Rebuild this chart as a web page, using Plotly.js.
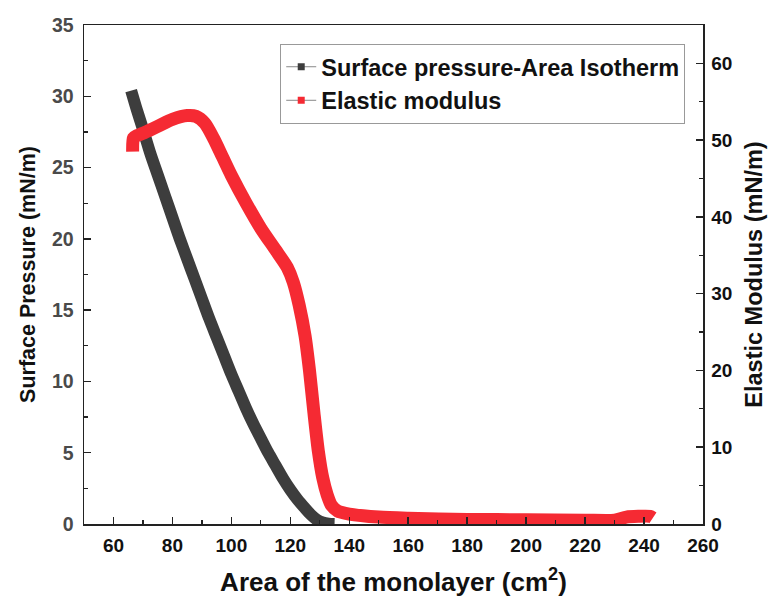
<!DOCTYPE html>
<html>
<head>
<meta charset="utf-8">
<script src="https://cdn.plot.ly/plotly-3.0.1.min.js"></script>
<style>html,body{margin:0;padding:0;background:#fff;}#chart{width:772px;height:602px;}</style>
</head>
<body>
<div id="chart"></div>
<script>
// Surface pressure-Area isotherm (left axis)
const isoArea = [66, 68, 70, 72.5, 75, 77.5, 80, 82.5, 85, 87.5, 90, 92.5, 95, 97.5, 100, 102.5, 105, 107.5, 110, 112.5, 115, 117.5, 120, 122.5, 125, 127, 129, 131, 133, 135];
const isoPressure = [30.4, 29.0, 27.7, 26.0, 24.5, 23.0, 21.5, 20.0, 18.6, 17.2, 15.8, 14.4, 13.1, 11.8, 10.5, 9.3, 8.1, 7.0, 6.0, 5.0, 4.1, 3.2, 2.4, 1.7, 1.1, 0.65, 0.3, 0.1, 0.02, 0];

// Elastic modulus (right axis)
const emArea = [66.5, 66.8, 68, 70, 75, 80, 85, 88, 91, 94, 97, 100, 105, 110, 115, 119, 121, 123, 125, 126.5, 128, 129.5, 131, 132.5, 134, 136, 140, 150, 160, 180, 200, 220, 230, 234, 238, 242, 243];
const emModulus = [48.5, 50.3, 50.6, 50.9, 51.8, 52.7, 53.2, 53.1, 52.2, 50.2, 47.8, 45.4, 41.8, 38.5, 35.7, 33.4, 31.5, 28.5, 24.5, 20.0, 14.5, 9.5, 6.0, 3.8, 2.4, 1.7, 1.3, 0.9, 0.75, 0.6, 0.55, 0.5, 0.5, 0.9, 1.0, 1.0, 0.8];

const seriesNames = ["Surface pressure-Area Isotherm", "Elastic modulus"];
const colBlack = "#3d3d3d";
const colRed = "#f52a33";

const traces = [
  {x: isoArea, y: isoPressure, mode: "lines", line: {color: colBlack, width: 12, shape: "spline", smoothing: 0.8}, showlegend: false, yaxis: "y", hoverinfo: "skip"},
  {x: emArea, y: emModulus, mode: "lines", line: {color: colRed, width: 13, shape: "spline", smoothing: 0.7}, showlegend: false, yaxis: "y2", hoverinfo: "skip"},
  {x: [null], y: [null], mode: "lines+markers", name: seriesNames[0], line: {color: "#888", width: 1}, marker: {symbol: "square", size: 7, color: colBlack}},
  {x: [null], y: [null], mode: "lines+markers", name: seriesNames[1], line: {color: "#888", width: 1}, marker: {symbol: "square", size: 7, color: colRed}}
];

const fontFam = "Liberation Sans, Arial, sans-serif";
const layout = {
  width: 772, height: 602,
  margin: {l: 84, r: 69, t: 25, b: 78},
  paper_bgcolor: "#fff", plot_bgcolor: "#fff",
  font: {family: fontFam, color: "#111"},
  showlegend: true,
  legend: {
    x: 0.317, y: 0.962, xanchor: "left", yanchor: "top",
    bordercolor: "#999", borderwidth: 1, bgcolor: "#fff",
    font: {size: 23.5, family: fontFam, weight: "bold", color: "#111"},
    tracegroupgap: 0, itemwidth: 30
  },
  xaxis: {
    range: [50, 260], tickmode: "linear", tick0: 60, dtick: 20,
    ticks: "inside", ticklen: 7, tickwidth: 1.5, tickcolor: "#222",
    minor: {dtick: 10, tick0: 50, ticks: "inside", ticklen: 4, tickcolor: "#222", tickwidth: 1.2},
    showline: true, linecolor: "#222", linewidth: 1.5, mirror: true,
    showgrid: false, zeroline: false,
    ticklabelstandoff: 4,
    tickfont: {size: 19, family: fontFam, weight: "bold", color: "#111"},
    title: {text: "Area of the monolayer (cm<sup>2</sup>)", font: {size: 26, family: fontFam, weight: "bold", color: "#111"}, standoff: 17}
  },
  yaxis: {
    range: [0, 35], tickmode: "linear", tick0: 0, dtick: 5,
    ticks: "inside", ticklen: 7, tickwidth: 1.5, tickcolor: "#222",
    minor: {dtick: 2.5, ticks: "inside", ticklen: 4, tickcolor: "#222", tickwidth: 1.2},
    showline: true, linecolor: "#222", linewidth: 1.5,
    showgrid: false, zeroline: false,
    ticklabelstandoff: 5,
    tickfont: {size: 19.5, family: fontFam, weight: "bold", color: "#4a4a4a"},
    title: {text: "Surface Pressure (mN/m)", font: {size: 21.5, family: fontFam, weight: "bold", color: "#111"}, standoff: 10}
  },
  yaxis2: {
    range: [0, 65], overlaying: "y", side: "right", tickmode: "linear", tick0: 0, dtick: 10,
    ticks: "inside", ticklen: 7, tickwidth: 1.5, tickcolor: "#222",
    minor: {dtick: 5, ticks: "inside", ticklen: 4, tickcolor: "#222", tickwidth: 1.2},
    showline: true, linecolor: "#222", linewidth: 1.5,
    showgrid: false, zeroline: false,
    ticklabelstandoff: 3,
    tickfont: {size: 19, family: fontFam, weight: "bold", color: "#111"},
    title: {text: "Elastic Modulus (mN/m)", font: {size: 23.5, family: fontFam, weight: "bold", color: "#111"}, standoff: 14}
  }
};

Plotly.newPlot("chart", traces, layout, {staticPlot: true, displayModeBar: false});
</script>
</body>
</html>
